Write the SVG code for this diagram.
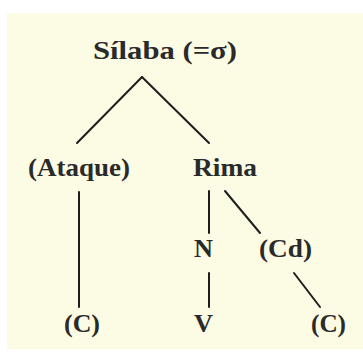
<svg xmlns="http://www.w3.org/2000/svg" width="363" height="352" viewBox="0 0 363 352">
<style>
.t{font-family:"Liberation Serif","Times New Roman",serif;font-weight:bold;font-size:26px;fill:#2a2a2a}
.c line{stroke:#1e1e1e;stroke-width:2;stroke-linecap:round}
</style>
<rect width="363" height="352" fill="#ffffff"/>
<rect x="7" y="13" width="356" height="336" fill="#fcfbe4"/>
<g class="c" id="connectors">
<line x1="142" y1="77" x2="77" y2="143"/>
<line x1="142" y1="77" x2="209" y2="143"/>
<line x1="79" y1="192" x2="79" y2="307"/>
<line x1="209" y1="191" x2="209" y2="233"/>
<line x1="225" y1="191" x2="260" y2="233"/>
<line x1="209" y1="273" x2="209" y2="307"/>
<line x1="294" y1="273" x2="320" y2="307"/>
</g>
<g id="silaba"><text class="t" x="93" y="59" textLength="144" lengthAdjust="spacingAndGlyphs">Sílaba (=σ)</text></g>
<g id="ataque"><text class="t" x="28" y="176" textLength="102" lengthAdjust="spacingAndGlyphs">(Ataque)</text></g>
<g id="rima"><text class="t" x="193" y="176" textLength="64" lengthAdjust="spacingAndGlyphs">Rima</text></g>
<g id="n"><text class="t" x="194" y="257" textLength="19" lengthAdjust="spacingAndGlyphs">N</text></g>
<g id="cd"><text class="t" x="259" y="257" textLength="53" lengthAdjust="spacingAndGlyphs">(Cd)</text></g>
<g id="c1"><text class="t" x="64" y="332" textLength="36" lengthAdjust="spacingAndGlyphs">(C)</text></g>
<g id="v"><text class="t" x="194" y="332" textLength="19" lengthAdjust="spacingAndGlyphs">V</text></g>
<g id="c2"><text class="t" x="311" y="332" textLength="35" lengthAdjust="spacingAndGlyphs">(C)</text></g>
</svg>
